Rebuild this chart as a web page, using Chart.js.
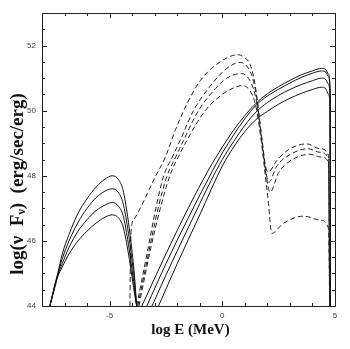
<!DOCTYPE html>
<html>
<head>
<meta charset="utf-8">
<script src="https://cdn.jsdelivr.net/npm/chart.js@4.4.0/dist/chart.umd.min.js"></script>
<style>
  html, body { margin: 0; padding: 0; background: #fff; }
  canvas { display: block; }
</style>
</head>
<body>
<canvas id="sedChart" width="350" height="349"></canvas>
<script>
// axis ranges / tick labels
const xRange = [-8, 5];
const yRange = [44, 53];
const xLabelTicks = [-5, 0, 5];
const yLabelTicks = [44, 46, 48, 50, 52];

// synchrotron bumps (solid, low energy)
const syncE = [-7.65, -7.45, -7.3, -7.1, -6.8, -6.4, -6.0, -5.6, -5.2, -4.88, -4.6, -4.4, -4.2, -4.05, -3.9, -3.8];
const sync1 = [44.0, 44.6, 45.0, 45.6, 46.2, 46.85, 47.3, 47.65, 47.9, 48.0, 47.88, 47.55, 46.75, 45.95, 44.95, 44.0];
const sync2 = [44.0, 44.58, 44.97, 45.45, 46.0, 46.57, 47.0, 47.33, 47.53, 47.6, 47.48, 47.15, 46.4, 45.65, 44.75, 44.0];
const sync3 = [44.0, 44.55, 44.93, 45.3, 45.8, 46.3, 46.65, 46.93, 47.1, 47.18, 47.06, 46.78, 46.05, 45.35, 44.55, 44.0];
const sync4 = [44.0, 44.52, 44.9, 45.2, 45.6, 46.0, 46.3, 46.55, 46.73, 46.8, 46.7, 46.43, 45.75, 45.1, 44.4, 44.0];

// high energy components (solid)
const hi1E = [-3.57, -2.5, -1.5, -0.62, 0, 0.5, 1.0, 1.5, 2.0, 2.5, 3.0, 3.5, 4.0, 4.4, 4.6, 4.7, 4.78, 4.8];
const hi1 = [44, 45.6, 47.02, 48.17, 48.88, 49.4, 49.85, 50.23, 50.52, 50.74, 50.93, 51.1, 51.22, 51.3, 51.26, 51.13, 50.7, 44];
const hi2E = [-3.35, -2.5, -1.5, -0.46, 0, 0.5, 1.0, 1.5, 2.0, 2.5, 3.0, 3.5, 4.0, 4.4, 4.6, 4.7, 4.78, 4.8];
const hi2 = [44, 45.3, 46.72, 48.12, 48.7, 49.25, 49.75, 50.17, 50.45, 50.66, 50.85, 51.02, 51.15, 51.22, 51.18, 51.05, 50.6, 44];
const hi3E = [-3.12, -2.5, -1.5, -0.5, 0, 0.5, 1.0, 1.5, 2.0, 2.5, 3.0, 3.5, 4.0, 4.4, 4.6, 4.7, 4.78, 4.8];
const hi3 = [44, 44.95, 46.42, 47.85, 48.5, 49.05, 49.55, 49.96, 50.25, 50.47, 50.65, 50.8, 50.92, 51.0, 50.95, 50.82, 50.4, 44];
const hi4E = [-2.83, -2.0, -1.0, 0, 0.5, 1.0, 1.5, 2.0, 2.5, 3.0, 3.5, 4.0, 4.4, 4.6, 4.7, 4.78, 4.8];
const hi4 = [44, 45.3, 46.8, 48.3, 48.88, 49.36, 49.73, 49.98, 50.2, 50.38, 50.53, 50.65, 50.72, 50.66, 50.51, 50.2, 44];

// inverse Compton components (dashed)
const ic1E = [-4.1, -4.07, -4.0, -3.9, -2.98, -2.53, -2.09, -1.57, -0.98, -0.24, 0.71, 1.0, 1.23, 1.45, 1.53, 1.65, 1.8, 1.92, 2.04, 2.42, 3.0, 3.75, 4.34, 4.71, 4.76];
const ic1 = [44, 45.8, 46.54, 46.68, 47.96, 48.57, 49.39, 50.21, 50.92, 51.43, 51.72, 51.62, 51.43, 50.82, 50.41, 49.75, 48.9, 48.3, 48.12, 48.47, 48.83, 48.98, 48.83, 48.63, 44];
const ic2E = [-3.8, -3.3, -2.95, -2.6, -2.2, -1.87, -1.28, -0.46, 0.2, 0.79, 1.05, 1.3, 1.45, 1.55, 1.65, 1.8, 1.95, 2.06, 2.42, 3.0, 3.8, 4.34, 4.71, 4.76];
const ic2 = [44, 45.75, 47.0, 48.0, 48.6, 49.09, 50.0, 50.82, 51.3, 51.48, 51.4, 51.1, 50.7, 50.3, 49.7, 48.85, 48.05, 47.8, 48.3, 48.65, 48.83, 48.72, 48.52, 44];
const ic3E = [-3.75, -3.25, -2.85, -2.45, -2.05, -1.72, -1.06, -0.3, 0.2, 0.85, 1.1, 1.3, 1.45, 1.55, 1.65, 1.8, 1.95, 2.12, 2.5, 3.0, 3.89, 4.34, 4.71, 4.77];
const ic3 = [44, 45.7, 47.0, 48.0, 48.6, 49.09, 50.0, 50.68, 51.0, 51.14, 51.05, 50.82, 50.5, 50.15, 49.65, 48.8, 48.0, 47.5, 48.1, 48.45, 48.66, 48.58, 48.42, 44];
const ic4E = [-3.7, -3.2, -2.75, -2.33, -1.95, -1.57, -0.76, 0, 0.5, 0.9, 1.15, 1.35, 1.5, 1.6, 1.75, 1.9, 2.05, 2.19, 2.71, 3.6, 4.34, 4.71, 4.78];
const ic4 = [44, 45.7, 47.0, 48.0, 48.58, 49.09, 50.0, 50.5, 50.7, 50.77, 50.68, 50.45, 50.1, 49.7, 48.95, 48.05, 47.15, 46.23, 46.54, 46.76, 46.64, 46.38, 44];

const pts = (xs, ys) => xs.map((x, i) => ({ x: x, y: ys[i] }));

const solid = (xs, ys) => ({
  data: pts(xs, ys),
  showLine: true,
  borderColor: '#111',
  borderWidth: 1,
  pointRadius: 0,
  cubicInterpolationMode: 'monotone',
  fill: false
});
const dashed = (xs, ys) => Object.assign(solid(xs, ys), { borderDash: [5, 3], borderColor: '#222' });

// frame with inward ticks on all four sides, plus axis titles
const framePlugin = {
  id: 'frame',
  afterDraw(chart) {
    const { ctx, chartArea: a, scales } = chart;
    ctx.save();
    ctx.strokeStyle = '#222';
    ctx.lineWidth = 1;
    ctx.strokeRect(Math.round(a.left) + 0.5, Math.round(a.top) + 0.5,
      Math.round(a.right - a.left), Math.round(a.bottom - a.top));
    ctx.beginPath();
    for (let v = xRange[0]; v <= xRange[1]; v++) {
      const px = Math.round(scales.x.getPixelForValue(v)) + 0.5;
      const len = v % 5 === 0 ? 5 : 3;
      ctx.moveTo(px, a.bottom); ctx.lineTo(px, a.bottom - len);
      ctx.moveTo(px, a.top); ctx.lineTo(px, a.top + len);
    }
    for (let v = yRange[0]; v <= yRange[1]; v += 0.5) {
      const py = Math.round(scales.y.getPixelForValue(v)) + 0.5;
      const len = v % 2 === 0 ? 5 : 3;
      ctx.moveTo(a.left, py); ctx.lineTo(a.left + len, py);
      ctx.moveTo(a.right, py); ctx.lineTo(a.right - len, py);
    }
    ctx.stroke();

    // x title
    ctx.fillStyle = '#111';
    ctx.font = 'bold 15px "Liberation Serif", serif';
    ctx.textAlign = 'center';
    ctx.textBaseline = 'middle';
    ctx.fillText('log E (MeV)', (a.left + a.right) / 2 + 2, 330);

    // y title, rotated, with subscript
    const big = 'bold 19px "Liberation Serif", serif';
    const small = 'bold 12px "Liberation Serif", serif';
    const parts = [
      { t: 'log(ν  F', f: big, dy: 0 },
      { t: 'ν', f: small, dy: 4 },
      { t: ')  (erg/sec/erg)', f: big, dy: 0 }
    ];
    let total = 0;
    parts.forEach(p => { ctx.font = p.f; p.w = ctx.measureText(p.t).width; total += p.w; });
    ctx.translate(18, 184);
    ctx.rotate(-Math.PI / 2);
    ctx.textAlign = 'left';
    let x0 = -total / 2;
    parts.forEach(p => { ctx.font = p.f; ctx.fillText(p.t, x0, p.dy); x0 += p.w; });
    ctx.restore();
  }
};

const tickFont = { family: '"Liberation Sans", Arial, sans-serif', size: 8 };

new Chart(document.getElementById('sedChart').getContext('2d'), {
  type: 'scatter',
  data: {
    datasets: [
      solid(syncE, sync1), solid(syncE, sync2), solid(syncE, sync3), solid(syncE, sync4),
      solid(hi1E, hi1), solid(hi2E, hi2), solid(hi3E, hi3), solid(hi4E, hi4),
      dashed(ic1E, ic1), dashed(ic2E, ic2), dashed(ic3E, ic3), dashed(ic4E, ic4)
    ]
  },
  options: {
    responsive: false,
    animation: false,
    devicePixelRatio: 1,
    layout: { padding: { left: 0, right: 15, top: 13, bottom: 0 } },
    plugins: { legend: { display: false }, tooltip: { enabled: false } },
    scales: {
      x: {
        type: 'linear',
        min: xRange[0],
        max: xRange[1],
        grid: { display: false, drawTicks: false },
        border: { display: false },
        ticks: {
          stepSize: 1,
          autoSkip: false,
          maxRotation: 0,
          padding: 5,
          color: '#444',
          font: tickFont,
          callback: v => (xLabelTicks.includes(v) ? String(v) : '')
        },
        afterFit: s => { s.height = 43; }
      },
      y: {
        type: 'linear',
        min: yRange[0],
        max: yRange[1],
        grid: { display: false, drawTicks: false },
        border: { display: false },
        ticks: {
          stepSize: 1,
          autoSkip: false,
          padding: 6,
          color: '#444',
          font: tickFont,
          callback: v => (yLabelTicks.includes(v) ? String(v) : '')
        },
        afterFit: s => { s.width = 42; }
      }
    }
  },
  plugins: [framePlugin]
});
</script>
</body>
</html>
